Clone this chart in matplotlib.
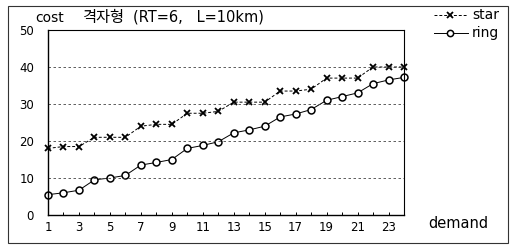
import numpy as np
import matplotlib.pyplot as plt
from matplotlib.patches import Rectangle

plt.rcParams['font.family'] = ['DejaVu Sans', 'Noto Sans CJK KR']

# data
demand = list(range(1, 25))
star = [18, 18.5, 18.5, 21, 21, 21, 24, 24.5, 24.5, 27.5, 27.5, 28,
        30.5, 30.5, 30.5, 33.5, 33.5, 34, 37, 37, 37, 40, 40, 40]
ring = [5.5, 6, 6.7, 9.5, 10, 10.7, 13.5, 14.2, 15, 18, 18.8, 19.8,
        22.2, 23, 24, 26.5, 27.3, 28.5, 31, 32, 33, 35.5, 36.5, 37.2]
xtick_labels = [str(v) for v in range(1, 24, 2)]
yticks = [0, 10, 20, 30, 40, 50]

fig = plt.figure(figsize=(5.13, 2.48), dpi=100)
ax = fig.add_axes([48 / 513, 1 - 215 / 248, 356 / 513, 185 / 248])

# figure border
fig.add_artist(Rectangle((8 / 513, 5 / 248), 500 / 513, 237 / 248,
                         transform=fig.transFigure, fill=False,
                         edgecolor='#333333', lw=0.8))

ax.plot(demand, star, color='black', lw=0.7, ls=(0, (3, 2)),
        marker='x', ms=4.5, mew=1.3, clip_on=False)
ax.plot(demand, ring, color='black', lw=0.7, marker='o', ms=5,
        mfc='white', mew=1.1, clip_on=False)

ax.set_xlim(1, 24)
ax.set_ylim(0, 50)
ax.set_xticks(range(1, 24, 2))
ax.set_xticklabels(xtick_labels)
ax.set_xticks(range(1, 25), minor=True)
ax.set_yticks(yticks)
ax.tick_params(axis='x', which='both', direction='in', length=2.5,
               labelsize=8.5, pad=4, width=0.7)
ax.tick_params(axis='y', length=0, labelsize=8.5, pad=10)

for y in [10, 20, 30, 40]:
    ax.axhline(y, color='#444444', lw=0.6, ls=(0, (3, 3)))
ax.spines['top'].set_linestyle((0, (1, 1)))
ax.spines['right'].set_linestyle((0, (1, 1)))
for s in ax.spines.values():
    s.set_linewidth(0.8)
ax.spines['left'].set_linewidth(1.0)
ax.spines['bottom'].set_linewidth(1.0)

base = 1 - 22 / 248
fig.text(35 / 513, base, 'cost', fontsize=10, va='baseline')
fig.text(82 / 513, base, '격자형', fontsize=11, va='baseline',
         family=['Noto Sans CJK KR', 'DejaVu Sans'])
fig.text(133 / 513, base, '(RT=6,   L=10km)', fontsize=10.5, va='baseline')
fig.text(428 / 513, 1 - 223 / 248, 'demand', fontsize=10.5, va='center')

# legend drawn by hand at top right
for i, (label, style) in enumerate([('star', dict(ls=(0, (3, 2)), marker='x', mew=1.3)),
                                    ('ring', dict(ls='-', marker='o', mfc='white', mew=1.1))]):
    yy = 1 - (15 + 18 * i) / 248
    fig.add_artist(plt.Line2D([434 / 513, 468 / 513], [yy, yy], color='black',
                              lw=0.7, transform=fig.transFigure, ls=style['ls']))
    fig.add_artist(plt.Line2D([450 / 513], [yy], color='black', ms=4.5,
                              marker=style['marker'], mew=style['mew'],
                              mfc=style.get('mfc', 'black'), ls='none',
                              transform=fig.transFigure))
    fig.text(472 / 513, yy, label, fontsize=10, va='center')

fig.savefig('out.png', dpi=100)
